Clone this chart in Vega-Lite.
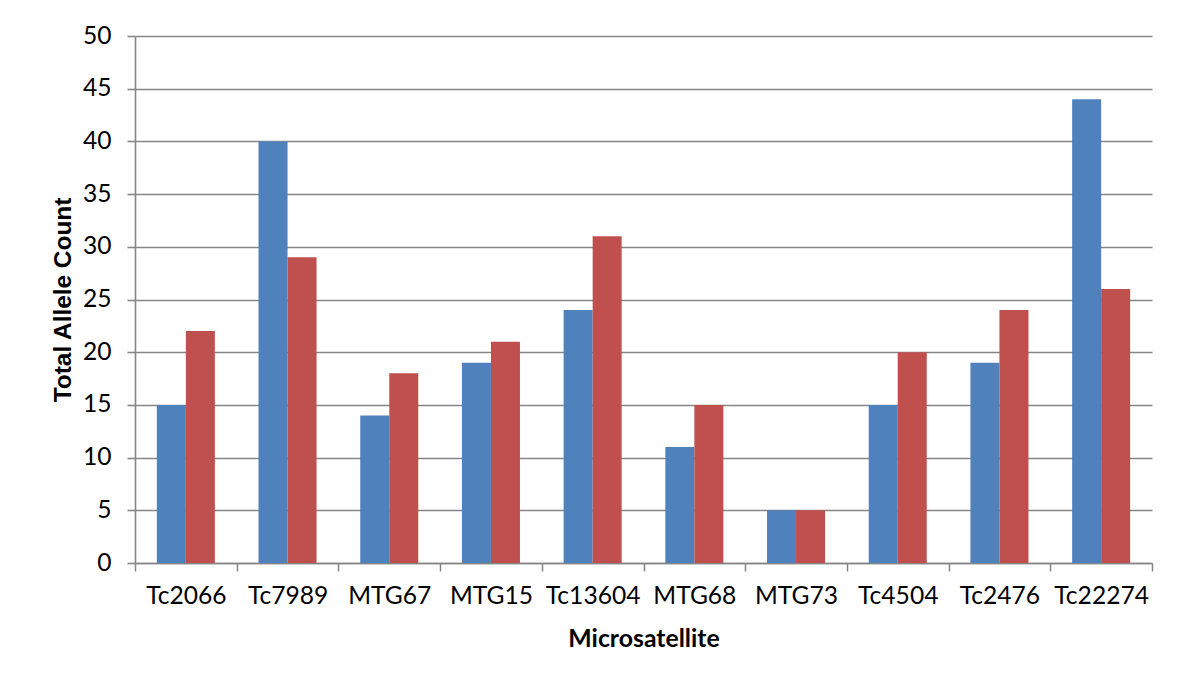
{
  "$schema": "https://vega.github.io/schema/vega-lite/v6.json",
  "width": 1017,
  "height": 527,
  "autosize": "none",
  "padding": {"left": 135, "top": 36, "right": 32, "bottom": 119},
  "background": "white",
  "data": {
    "values": [
      {"marker": "Tc2066", "series": "A", "count": 15},
      {"marker": "Tc2066", "series": "B", "count": 22},
      {"marker": "Tc7989", "series": "A", "count": 40},
      {"marker": "Tc7989", "series": "B", "count": 29},
      {"marker": "MTG67", "series": "A", "count": 14},
      {"marker": "MTG67", "series": "B", "count": 18},
      {"marker": "MTG15", "series": "A", "count": 19},
      {"marker": "MTG15", "series": "B", "count": 21},
      {"marker": "Tc13604", "series": "A", "count": 24},
      {"marker": "Tc13604", "series": "B", "count": 31},
      {"marker": "MTG68", "series": "A", "count": 11},
      {"marker": "MTG68", "series": "B", "count": 15},
      {"marker": "MTG73", "series": "A", "count": 5},
      {"marker": "MTG73", "series": "B", "count": 5},
      {"marker": "Tc4504", "series": "A", "count": 15},
      {"marker": "Tc4504", "series": "B", "count": 20},
      {"marker": "Tc2476", "series": "A", "count": 19},
      {"marker": "Tc2476", "series": "B", "count": 24},
      {"marker": "Tc22274", "series": "A", "count": 44},
      {"marker": "Tc22274", "series": "B", "count": 26}
    ]
  },
  "mark": {"type": "bar"},
  "encoding": {
    "x": {
      "field": "marker",
      "type": "nominal",
      "sort": null,
      "scale": {"paddingInner": 0, "paddingOuter": 0},
      "axis": {
        "title": "Microsatellite",
        "labelAngle": 0,
        "tickBand": "extent",
        "grid": false,
        "domainColor": "#868686",
        "domainWidth": 1.5,
        "tickColor": "#868686",
        "tickWidth": 1.5,
        "tickSize": 8,
        "labelFont": "Lato",
        "labelFontSize": 24.6,
        "labelColor": "black",
        "labelPadding": 13,
        "titleFont": "Lato",
        "titleFontSize": 24.8,
        "titleFontWeight": "bold",
        "titleColor": "black",
        "titleX": 508.5,
        "titleY": 83,
        "titleAnchor": "middle",
        "titleAlign": "center",
        "titleBaseline": "alphabetic"
      }
    },
    "xOffset": {
      "field": "series",
      "type": "nominal",
      "scale": {"paddingInner": 0, "paddingOuter": 0.753}
    },
    "y": {
      "field": "count",
      "type": "quantitative",
      "scale": {"domain": [0, 50], "nice": false},
      "axis": {
        "title": "Total Allele Count",
        "values": [0, 5, 10, 15, 20, 25, 30, 35, 40, 45, 50],
        "grid": true,
        "gridColor": "#868686",
        "gridWidth": 1.6,
        "domainColor": "#868686",
        "domainWidth": 1.6,
        "tickColor": "#868686",
        "tickWidth": 1.6,
        "tickSize": 8,
        "labelFont": "Lato",
        "labelFontSize": 24.6,
        "labelColor": "black",
        "labelPadding": 16,
        "titleFont": "Liberation Sans",
        "titleFontSize": 24.4,
        "titleFontWeight": "bold",
        "titleColor": "black",
        "titleX": -72,
        "titleY": 263.5,
        "titleAngle": -90,
        "titleAlign": "center",
        "titleBaseline": "middle"
      }
    },
    "color": {
      "field": "series",
      "type": "nominal",
      "scale": {"domain": ["A", "B"], "range": ["#4F81BD", "#C0504D"]},
      "legend": null
    }
  },
  "config": {
    "view": {"stroke": null}
  }
}
